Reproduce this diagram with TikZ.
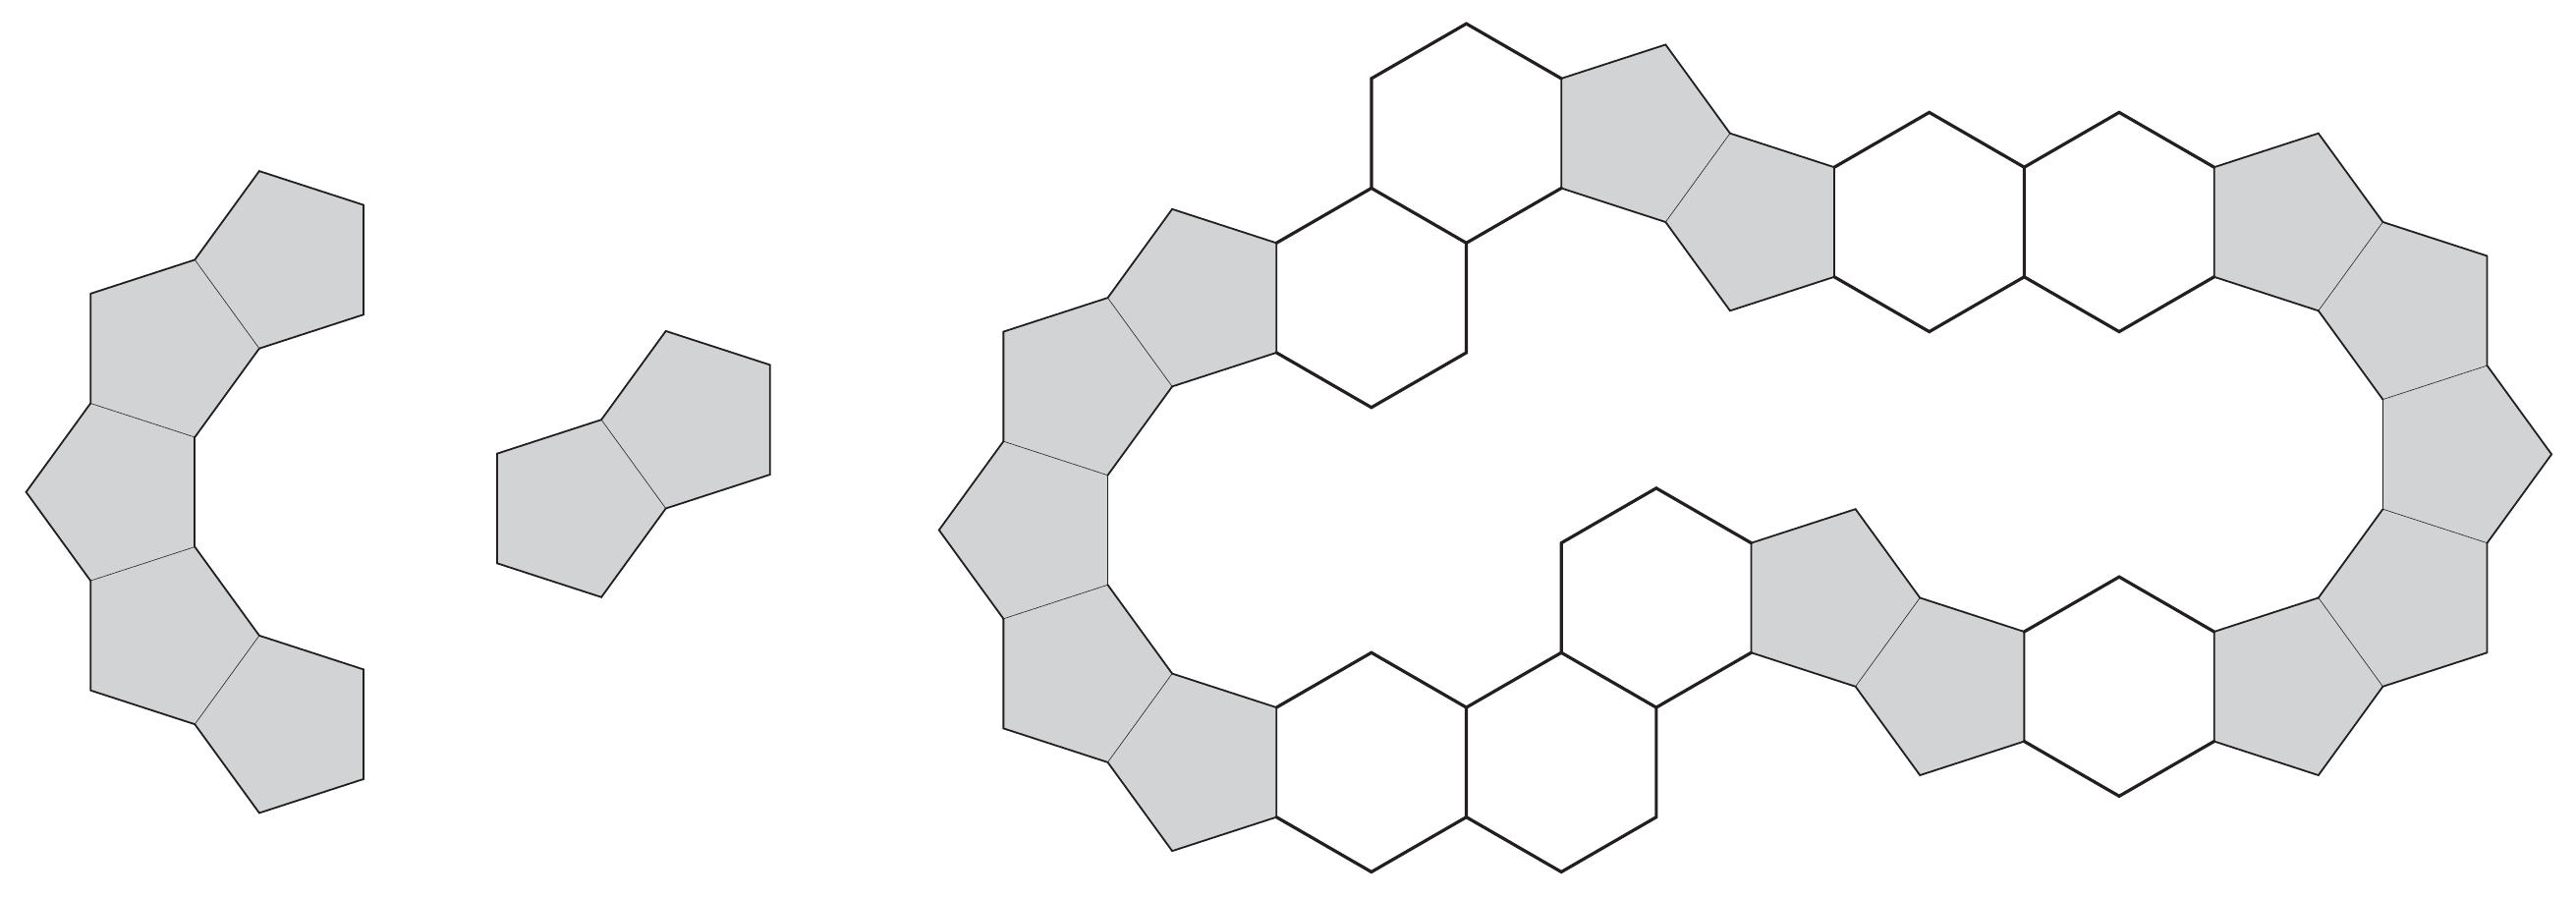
\documentclass[tikz,border=0pt]{standalone}
\definecolor{pgray}{HTML}{D1D3D4}
\definecolor{ink}{HTML}{231F20}
\tikzset{
  pfill/.style={fill=pgray, draw=none},
  thinedge/.style={draw=ink, line width=0.6pt},
  pentedge/.style={draw=ink, line width=1.8pt, line join=miter, line cap=round},
  hexedge/.style={draw=ink, line width=3.2pt, line join=miter, line cap=round},
}
\begin{document}
\begin{tikzpicture}
\useasboundingbox (0,0) rectangle (2622pt,913pt);

% ---------------- left figure ----------------
\begin{scope}[shift={(198.3pt,412.2pt)}, x=111.6pt, y=111.6pt]
\coordinate (aL) at (-1.538842,0);
\coordinate (aTL) at (-0.951057,0.809017);
\coordinate (aTR) at (0,0.5);
\coordinate (aBR) at (0,-0.5);
\coordinate (aBL) at (-0.951057,-0.809017);
\coordinate (aRB) at (0.587785,1.309017);
\coordinate (aTB) at (0,2.118034);
\coordinate (aLB) at (-0.951057,1.809017);
\coordinate (aSA) at (1.538842,1.618034);
\coordinate (aUA) at (1.538842,2.618034);
\coordinate (aTA) at (0.587785,2.927051);
\coordinate (aRD) at (0.587785,-1.309017);
\coordinate (aBD) at (0,-2.118034);
\coordinate (aLD) at (-0.951057,-1.809017);
\coordinate (aUE) at (1.538842,-1.618034);
\coordinate (aSE) at (1.538842,-2.618034);
\coordinate (aBE) at (0.587785,-2.927051);
\path[pfill] (aL)--(aTL)--(aTR)--(aBR)--(aBL)--cycle;
\path[pfill] (aTL)--(aTR)--(aRB)--(aTB)--(aLB)--cycle;
\path[pfill] (aRB)--(aSA)--(aUA)--(aTA)--(aTB)--cycle;
\path[pfill] (aBL)--(aBR)--(aRD)--(aBD)--(aLD)--cycle;
\path[pfill] (aRD)--(aUE)--(aSE)--(aBE)--(aBD)--cycle;
\draw[thinedge] (aTL)--(aTR) (aRB)--(aTB) (aBL)--(aBR) (aRD)--(aBD);
\draw[pentedge] (aTR)--(aBR);
\draw[pentedge] (aBL)--(aL)--(aTL);
\draw[pentedge] (aTR)--(aRB);
\draw[pentedge] (aTB)--(aLB)--(aTL);
\draw[pentedge] (aRB)--(aSA)--(aUA)--(aTA)--(aTB);
\draw[pentedge] (aBR)--(aRD);
\draw[pentedge] (aBD)--(aLD)--(aBL);
\draw[pentedge] (aRD)--(aUE)--(aSE)--(aBE)--(aBD);
\end{scope}

% ---------------- middle figure ----------------
\begin{scope}[shift={(612.1pt,249.4pt)}, x=111.6pt, y=111.6pt]
\coordinate (mB) at (-0.951057,0.809017);
\coordinate (mC) at (0,0.5);
\coordinate (mR) at (0.587785,1.309017);
\coordinate (mT) at (0,2.118034);
\coordinate (mL) at (-0.951057,1.809017);
\coordinate (mS) at (1.538842,1.618034);
\coordinate (mU) at (1.538842,2.618034);
\coordinate (mQ) at (0.587785,2.927051);
\path[pfill] (mB)--(mC)--(mR)--(mT)--(mL)--cycle;
\path[pfill] (mR)--(mS)--(mU)--(mQ)--(mT)--cycle;
\draw[thinedge] (mR)--(mT);
\draw[pentedge] (mR)--(mC)--(mB)--(mL)--(mT);
\draw[pentedge] (mR)--(mS)--(mU)--(mQ)--(mT);
\end{scope}

% ---------------- right figure ----------------
\begin{scope}[shift={(1127.5pt,373.5pt)}, x=111.6pt, y=111.6pt]
\coordinate (pA) at (-1.538842,0);
\coordinate (pB) at (-0.951057,0.809017);
\coordinate (pC) at (0,0.5);
\coordinate (pD) at (0,-0.5);
\coordinate (pE) at (-0.951057,-0.809017);
\coordinate (R2) at (0.587785,1.309017);
\coordinate (T2) at (0,2.118034);
\coordinate (L2) at (-0.951057,1.809017);
\coordinate (B3) at (1.538842,1.618034);
\coordinate (U3) at (1.538842,2.618034);
\coordinate (T3) at (0.587785,2.927051);
\coordinate (h1t) at (2.404867,3.118034);
\coordinate (h1r) at (3.270892,2.618034);
\coordinate (h1s) at (3.270892,1.618034);
\coordinate (h1b) at (2.404867,1.118034);
\coordinate (h2l) at (2.404867,4.118034);
\coordinate (h2t) at (3.270892,4.618034);
\coordinate (h2r) at (4.136917,4.118034);
\coordinate (h2s) at (4.136917,3.118034);
\coordinate (T4) at (5.087974,4.427051);
\coordinate (R4) at (5.675759,3.618034);
\coordinate (B4) at (5.087974,2.809017);
\coordinate (U5) at (6.626816,3.309017);
\coordinate (S5) at (6.626816,2.309017);
\coordinate (B5) at (5.675759,2.0);
\coordinate (h3t) at (7.492841,3.809017);
\coordinate (h3r) at (8.358866,3.309017);
\coordinate (h3s) at (8.358866,2.309017);
\coordinate (h3b) at (7.492841,1.809017);
\coordinate (h4t) at (9.224891,3.809017);
\coordinate (h4r) at (10.090916,3.309017);
\coordinate (h4s) at (10.090916,2.309017);
\coordinate (h4b) at (9.224891,1.809017);
\coordinate (T6) at (11.041973,3.618034);
\coordinate (R6) at (11.629758,2.809017);
\coordinate (B6) at (11.041973,2.0);
\coordinate (U7) at (12.580815,2.5);
\coordinate (S7) at (12.580815,1.5);
\coordinate (B7) at (11.629758,1.190983);
\coordinate (R8) at (13.168600,0.690983);
\coordinate (B8) at (12.580815,-0.118034);
\coordinate (L8) at (11.629758,0.190983);
\coordinate (S9) at (12.580815,-1.118034);
\coordinate (B9) at (11.629758,-1.427051);
\coordinate (L9) at (11.041973,-0.618034);
\coordinate (B10) at (11.041973,-2.236068);
\coordinate (S10) at (10.090916,-1.927051);
\coordinate (U10) at (10.090916,-0.927051);
\coordinate (h5t) at (9.224891,-0.427051);
\coordinate (h5l) at (8.358866,-0.927051);
\coordinate (h5m) at (8.358866,-1.927051);
\coordinate (h5b) at (9.224891,-2.427051);
\coordinate (B11) at (7.407809,-2.236068);
\coordinate (L11) at (6.820024,-1.427051);
\coordinate (T11) at (7.407809,-0.618034);
\coordinate (S12) at (5.868967,-1.118034);
\coordinate (U12) at (5.868967,-0.118034);
\coordinate (T12) at (6.820024,0.190983);
\coordinate (h6t) at (5.002942,0.381966);
\coordinate (h6l) at (4.136917,-0.118034);
\coordinate (h6m) at (4.136917,-1.118034);
\coordinate (h6b) at (5.002942,-1.618034);
\coordinate (h7s) at (5.002942,-2.618034);
\coordinate (h7b) at (4.136917,-3.118034);
\coordinate (h7m) at (3.270892,-2.618034);
\coordinate (h7l) at (3.270892,-1.618034);
\coordinate (h8t) at (2.404867,-1.118034);
\coordinate (h8b) at (2.404867,-3.118034);
\coordinate (h8m) at (1.538842,-2.618034);
\coordinate (h8l) at (1.538842,-1.618034);
\coordinate (B13) at (0.587785,-2.927051);
\coordinate (L13) at (0,-2.118034);
\coordinate (T13) at (0.587785,-1.309017);
\coordinate (S14) at (-0.951057,-1.809017);
% pentagon fills
\path[pfill] (pA)--(pB)--(pC)--(pD)--(pE)--cycle;
\path[pfill] (pB)--(pC)--(R2)--(T2)--(L2)--cycle;
\path[pfill] (R2)--(B3)--(U3)--(T3)--(T2)--cycle;
\path[pfill] (h2s)--(h2r)--(T4)--(R4)--(B4)--cycle;
\path[pfill] (R4)--(U5)--(S5)--(B5)--(B4)--cycle;
\path[pfill] (h4r)--(T6)--(R6)--(B6)--(h4s)--cycle;
\path[pfill] (R6)--(U7)--(S7)--(B7)--(B6)--cycle;
\path[pfill] (B7)--(S7)--(R8)--(B8)--(L8)--cycle;
\path[pfill] (L8)--(B8)--(S9)--(B9)--(L9)--cycle;
\path[pfill] (L9)--(B9)--(B10)--(S10)--(U10)--cycle;
\path[pfill] (h5l)--(h5m)--(B11)--(L11)--(T11)--cycle;
\path[pfill] (T11)--(L11)--(S12)--(U12)--(T12)--cycle;
\path[pfill] (h8l)--(h8m)--(B13)--(L13)--(T13)--cycle;
\path[pfill] (T13)--(L13)--(S14)--(pE)--(pD)--cycle;
% shared pentagon-pentagon edges
\draw[thinedge] (pB)--(pC) (R2)--(T2) (R4)--(B4) (R6)--(B6) (B7)--(S7)
  (L8)--(B8) (L9)--(B9) (T11)--(L11) (T13)--(L13) (pE)--(pD);
% pentagon outlines
\draw[pentedge] (pC)--(pD);
\draw[pentedge] (pE)--(pA)--(pB);
\draw[pentedge] (pC)--(R2);
\draw[pentedge] (T2)--(L2)--(pB);
\draw[pentedge] (R2)--(B3)--(U3)--(T3)--(T2);
\draw[pentedge] (R4)--(T4)--(h2r)--(h2s)--(B4);
\draw[pentedge] (R4)--(U5)--(S5)--(B5)--(B4);
\draw[pentedge] (R6)--(T6)--(h4r)--(h4s)--(B6);
\draw[pentedge] (R6)--(U7)--(S7);
\draw[pentedge] (B7)--(B6);
\draw[pentedge] (S7)--(R8)--(B8);
\draw[pentedge] (L8)--(B7);
\draw[pentedge] (B8)--(S9)--(B9);
\draw[pentedge] (L9)--(L8);
\draw[pentedge] (B9)--(B10)--(S10)--(U10)--(L9);
\draw[pentedge] (L11)--(B11)--(h5m)--(h5l)--(T11);
\draw[pentedge] (L11)--(S12)--(U12)--(T12)--(T11);
\draw[pentedge] (L13)--(B13)--(h8m)--(h8l)--(T13);
\draw[pentedge] (L13)--(S14)--(pE);
\draw[pentedge] (pD)--(T13);
% hexagon outlines
\draw[hexedge] (U3)--(h1t)--(h1r)--(h1s)--(h1b)--(B3);
\draw[hexedge] (h1t)--(h2l)--(h2t)--(h2r);
\draw[hexedge] (h2s)--(h1r);
\draw[hexedge] (U5)--(h3t)--(h3r)--(h3s)--(h3b)--(S5);
\draw[hexedge] (h3r)--(h4t)--(h4r);
\draw[hexedge] (h4s)--(h4b)--(h3s);
\draw[hexedge] (U10)--(h5t)--(h5l);
\draw[hexedge] (h5m)--(h5b)--(S10);
\draw[hexedge] (U12)--(h6t)--(h6l)--(h6m)--(h6b)--(S12);
\draw[hexedge] (h6b)--(h7s)--(h7b)--(h7m)--(h7l)--(h6m);
\draw[hexedge] (h7l)--(h8t)--(h8l);
\draw[hexedge] (h8m)--(h8b)--(h7m);
\end{scope}
\end{tikzpicture}
\end{document}
